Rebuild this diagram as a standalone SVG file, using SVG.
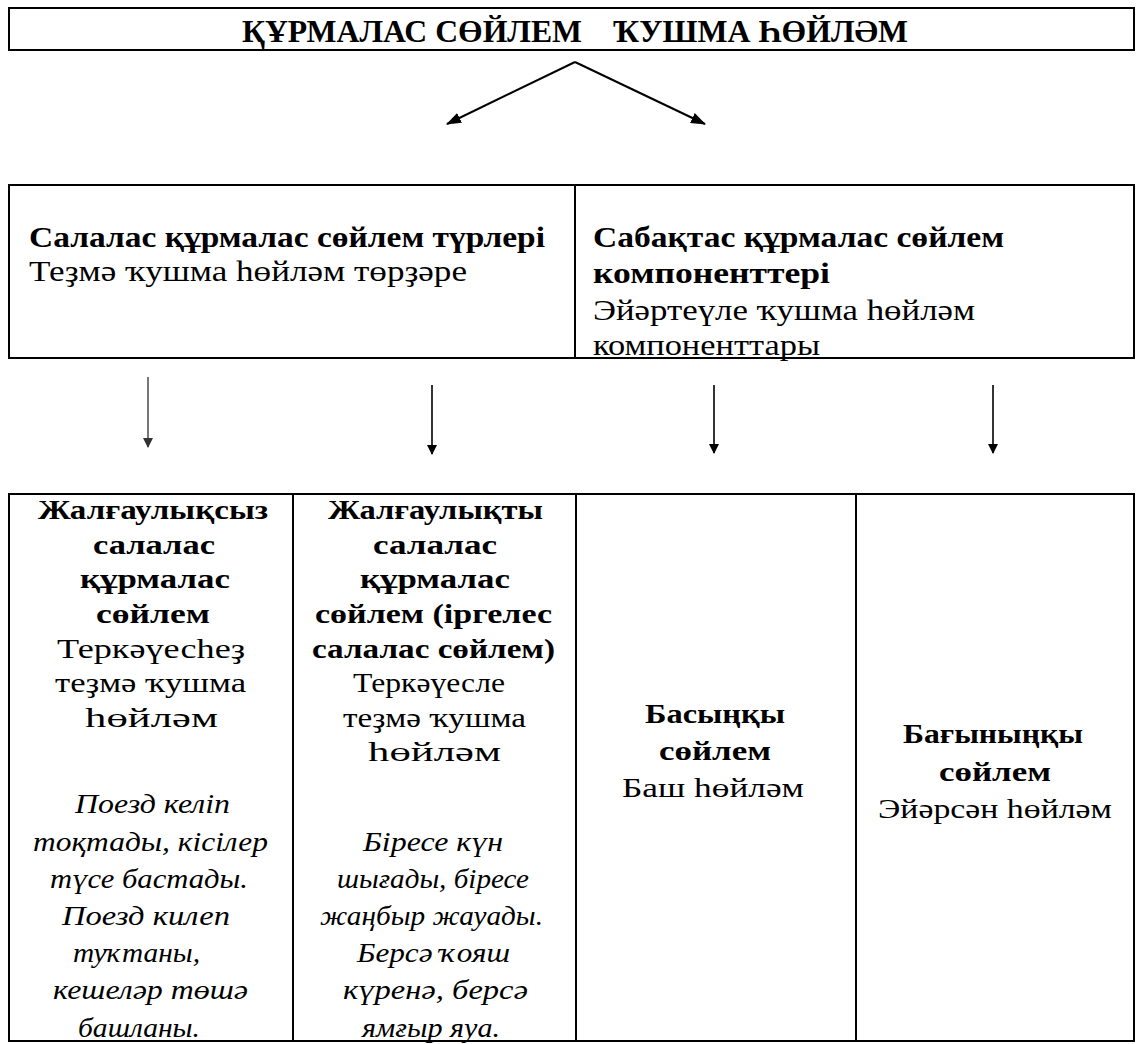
<svg xmlns="http://www.w3.org/2000/svg" width="1136" height="1044" viewBox="0 0 1136 1044">
<style>
.t{font-family:"Liberation Serif","DejaVu Serif",serif;fill:#000}
.b{font-weight:bold}
.i{font-style:italic}
.s27{font-size:29px}
.s25{font-size:27px}
.ttl{font-family:"Liberation Serif","DejaVu Serif",serif;font-weight:bold;font-size:32px;fill:#000}
.box{fill:none;stroke:#000;stroke-width:2}
.ln{fill:none;stroke:#000;stroke-width:2}
.vl{fill:none;stroke:#000;stroke-width:1.6}
.gl{fill:none;stroke:#555;stroke-width:1.6}
</style>
<defs>
<marker id="ah" markerUnits="userSpaceOnUse" markerWidth="15" markerHeight="11" refX="14" refY="5.5" orient="auto">
<path d="M0,0 L15,5.5 L0,11 z" fill="#000"/>
</marker>
<marker id="vh" markerUnits="userSpaceOnUse" markerWidth="10" markerHeight="10" refX="9" refY="5" orient="auto">
<path d="M0,0 L10,5 L0,10 z" fill="#000"/>
</marker>
<marker id="vg" markerUnits="userSpaceOnUse" markerWidth="10" markerHeight="10" refX="9" refY="5" orient="auto">
<path d="M0,0 L10,5 L0,10 z" fill="#333"/>
</marker>
</defs>
<rect x="0" y="0" width="1136" height="1044" fill="#fff"/>

<g id="title">
<rect class="box" x="9" y="8" width="1125" height="42"/>
<text class="ttl" y="42"><tspan x="242" textLength="340" lengthAdjust="spacingAndGlyphs">ҚҰРМАЛАС СӨЙЛЕМ</tspan><tspan x="613" textLength="295" lengthAdjust="spacingAndGlyphs">ҠУШМА ҺӨЙЛӘМ</tspan></text>
</g>

<g id="connectors">
<line class="ln" x1="575" y1="62" x2="447" y2="124" marker-end="url(#ah)"/>
<line class="ln" x1="575" y1="62" x2="705" y2="124" marker-end="url(#ah)"/>
<line class="gl" x1="148" y1="377" x2="148" y2="447" marker-end="url(#vg)"/>
<line class="vl" x1="432" y1="385" x2="432" y2="454" marker-end="url(#vh)"/>
<line class="vl" x1="714" y1="385" x2="714" y2="453" marker-end="url(#vh)"/>
<line class="vl" x1="993" y1="385" x2="993" y2="453" marker-end="url(#vh)"/>
</g>

<g id="node-salalas">
<rect class="box" x="9" y="185" width="566" height="173"/>
<text class="t b s27" x="29" y="247" textLength="516" lengthAdjust="spacingAndGlyphs">Салалас құрмалас сөйлем түрлері</text>
<text class="t s27" x="29" y="281" textLength="438" lengthAdjust="spacingAndGlyphs">Теҙмә ҡушма һөйләм төрҙәре</text>
</g>

<g id="node-sabaqtas">
<text class="t b s27" x="593" y="247" textLength="411" lengthAdjust="spacingAndGlyphs">Сабақтас құрмалас сөйлем</text>
<text class="t b s27" x="593" y="283" textLength="237" lengthAdjust="spacingAndGlyphs">компоненттері</text>
<text class="t s27" x="593" y="320" textLength="382" lengthAdjust="spacingAndGlyphs">Эйәртеүле ҡушма һөйләм</text>
<text class="t s27" x="593" y="355" textLength="227" lengthAdjust="spacingAndGlyphs">компоненттары</text>
<rect class="box" x="575" y="185" width="559" height="173"/>
</g>

<g id="node-jalgaulyqsyz">
<rect class="box" x="9" y="494" width="284" height="547"/>
<text class="t b s25" x="38" y="519" textLength="230" lengthAdjust="spacingAndGlyphs">Жалғаулықсыз</text>
<text class="t b s25" x="93" y="554" textLength="122" lengthAdjust="spacingAndGlyphs">салалас</text>
<text class="t b s25" x="80" y="588" textLength="150" lengthAdjust="spacingAndGlyphs">құрмалас</text>
<text class="t b s25" x="96" y="623" textLength="114" lengthAdjust="spacingAndGlyphs">сөйлем</text>
<text class="t s25" x="57" y="658" textLength="188" lengthAdjust="spacingAndGlyphs">Теркәүесһеҙ</text>
<text class="t s25" x="55" y="692" textLength="191" lengthAdjust="spacingAndGlyphs">теҙмә ҡушма</text>
<text class="t s25" x="85" y="727" textLength="133" lengthAdjust="spacingAndGlyphs">һөйләм</text>
<text class="t i s25" x="75" y="813" textLength="155" lengthAdjust="spacingAndGlyphs">Поезд келіп</text>
<text class="t i s25" x="33" y="851" textLength="235" lengthAdjust="spacingAndGlyphs">тоқтады, кісілер</text>
<text class="t i s25" x="50" y="888" textLength="198" lengthAdjust="spacingAndGlyphs">түсе бастады.</text>
<text class="t i s25" x="62" y="925" textLength="168" lengthAdjust="spacingAndGlyphs">Поезд килеп</text>
<text class="t i s25" x="73" y="962" textLength="127" lengthAdjust="spacingAndGlyphs">туҡтаны,</text>
<text class="t i s25" x="53" y="999" textLength="195" lengthAdjust="spacingAndGlyphs">кешеләр төшә</text>
<text class="t i s25" x="78" y="1037" textLength="122" lengthAdjust="spacingAndGlyphs">башланы.</text>
</g>

<g id="node-jalgaulyqty">
<rect class="box" x="293" y="494" width="283" height="547"/>
<text class="t b s25" x="328" y="519" textLength="215" lengthAdjust="spacingAndGlyphs">Жалғаулықты</text>
<text class="t b s25" x="373" y="554" textLength="124" lengthAdjust="spacingAndGlyphs">салалас</text>
<text class="t b s25" x="360" y="588" textLength="150" lengthAdjust="spacingAndGlyphs">құрмалас</text>
<text class="t b s25" x="315" y="623" textLength="237" lengthAdjust="spacingAndGlyphs">сөйлем (іргелес</text>
<text class="t b s25" x="312" y="658" textLength="243" lengthAdjust="spacingAndGlyphs">салалас сөйлем)</text>
<text class="t s25" x="353" y="692" textLength="152" lengthAdjust="spacingAndGlyphs">Теркәүесле</text>
<text class="t s25" x="343" y="727" textLength="183" lengthAdjust="spacingAndGlyphs">теҙмә ҡушма</text>
<text class="t s25" x="368" y="761" textLength="133" lengthAdjust="spacingAndGlyphs">һөйләм</text>
<text class="t i s25" x="363" y="851" textLength="140" lengthAdjust="spacingAndGlyphs">Біресе күн</text>
<text class="t i s25" x="337" y="888" textLength="192" lengthAdjust="spacingAndGlyphs">шығады, біресе</text>
<text class="t i s25" x="320" y="925" textLength="223" lengthAdjust="spacingAndGlyphs">жаңбыр жауады.</text>
<text class="t i s25" x="357" y="962" textLength="153" lengthAdjust="spacingAndGlyphs">Берсә ҡояш</text>
<text class="t i s25" x="343" y="999" textLength="185" lengthAdjust="spacingAndGlyphs">күренә, берсә</text>
<text class="t i s25" x="362" y="1037" textLength="138" lengthAdjust="spacingAndGlyphs">ямғыр яуа.</text>
</g>

<g id="node-basynqy">
<rect class="box" x="576" y="494" width="280" height="547"/>
<text class="t b s25" x="645" y="723" textLength="140" lengthAdjust="spacingAndGlyphs">Басыңқы</text>
<text class="t b s25" x="659" y="760" textLength="112" lengthAdjust="spacingAndGlyphs">сөйлем</text>
<text class="t s25" x="622" y="797" textLength="182" lengthAdjust="spacingAndGlyphs">Баш һөйләм</text>
</g>

<g id="node-bagynynqy">
<rect class="box" x="856" y="494" width="278" height="547"/>
<text class="t b s25" x="903" y="743" textLength="180" lengthAdjust="spacingAndGlyphs">Бағыныңқы</text>
<text class="t b s25" x="939" y="781" textLength="112" lengthAdjust="spacingAndGlyphs">сөйлем</text>
<text class="t s25" x="878" y="818" textLength="234" lengthAdjust="spacingAndGlyphs">Эйәрсән һөйләм</text>
</g>
</svg>
